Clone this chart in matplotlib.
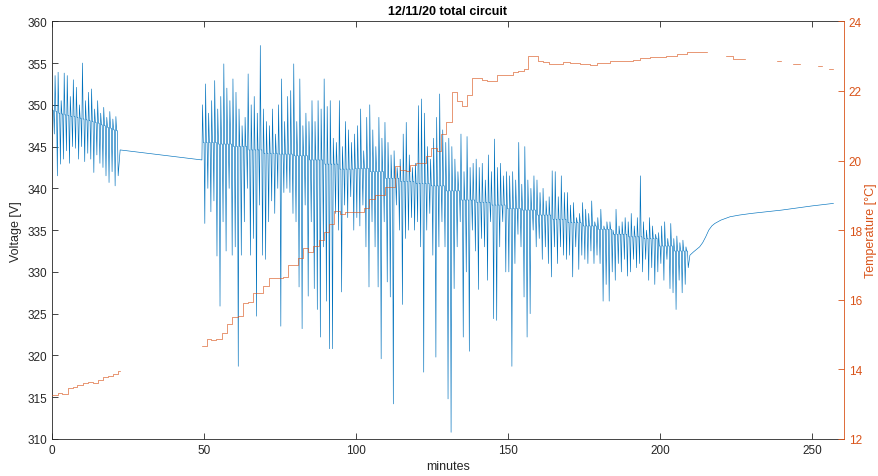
import numpy as np
import matplotlib
matplotlib.use('Agg')
import matplotlib.pyplot as plt

plt.rcParams['font.family'] = ['Liberation Sans', 'DejaVu Sans']

# tensão: cada bin de 1 min tem pico alto, linha de base e pico baixo
seg1_start = 0.0
seg1_base = [349.3, 349.2, 349.0, 348.9, 348.8, 348.7, 348.6, 348.6, 348.5, 348.4, 348.3,
             348.2, 348.1, 348.0, 347.9, 347.8, 347.6, 347.5, 347.3, 347.2, 347.0, 346.9]
seg1_hi = [349.5, 353.5, 353.9, 350.5, 353.8, 353.5, 351.0, 353.0, 352.1, 350.0, 355.0,
           350.5, 351.5, 351.9, 349.5, 350.5, 349.0, 349.7, 348.5, 349.2, 348.3, 348.6]
seg1_lo = [346.5, 341.5, 342.9, 343.5, 344.5, 343.0, 345.0, 344.8, 343.5, 345.0, 343.2,
           344.2, 343.5, 341.9, 344.0, 343.0, 342.5, 341.5, 340.7, 342.0, 340.3, 341.5]

bridge_t = [22.4, 49.3]
bridge_v = [344.6, 343.4]

seg2_start = 49.5
# linha de base a cada 5 min
seg2_base5 = [345.5, 345.3, 345.0, 344.6, 344.2, 344.1, 343.9, 343.4, 342.9, 342.3, 342.4,
              342.0, 341.2, 340.8, 340.6, 340.3, 339.7, 338.6, 338.3, 338.0, 337.6, 337.4,
              336.8, 336.3, 335.9, 335.5, 335.1, 334.5, 334.2, 334.0, 333.1, 332.5]
seg2_hi = [
    350.0, 352.5, 349.0, 350.5, 352.9, 349.5, 351.0, 354.9, 352.0, 350.5,
    353.1, 351.5, 349.5, 347.5, 348.5, 353.7, 350.0, 351.0, 349.0, 357.1,
    349.5, 348.0, 347.5, 349.5, 346.5, 350.0, 353.1, 348.0, 351.0, 351.7,
    354.9, 348.0, 353.1, 347.5, 349.0, 348.0, 350.5, 348.0, 350.5, 349.5,
    353.1, 349.8, 350.5, 346.0, 345.5, 350.5, 345.0, 348.0, 347.0, 345.5,
    346.5, 347.5, 349.5, 344.5, 348.5, 350.0, 347.0, 345.0, 348.5, 346.0,
    347.9, 345.5, 344.0, 344.5, 342.5, 343.5, 346.5, 347.9, 344.0, 342.5,
    343.0, 349.9, 350.7, 349.0, 345.0, 343.5, 346.0, 348.5, 351.3, 347.0,
    345.5, 346.0, 345.0, 343.5, 342.0, 346.5, 342.0, 346.2, 342.5, 343.0,
    343.5, 342.5, 343.0, 341.0, 344.0, 342.0, 345.9, 342.5, 343.0, 341.5,
    342.0, 341.5, 342.0, 341.0, 345.5, 340.5, 345.0, 341.0, 340.0, 341.5,
    341.0, 339.5, 340.0, 338.5, 339.0, 342.1, 342.0, 339.0, 341.5, 339.5,
    339.5, 338.0, 338.3, 336.5, 337.0, 338.3, 337.5, 337.0, 338.5, 336.0,
    336.5, 337.5, 335.5, 336.0, 336.0, 335.0, 337.5, 335.5, 336.0, 336.5,
    336.0, 337.0, 335.5, 336.5, 341.5, 336.0, 335.0, 336.5, 335.5, 334.5,
    334.7, 335.5, 336.0, 334.0, 335.8, 334.0, 334.3, 333.5, 333.8, 333.0]
seg2_lo = [
    335.8, 340.0, 337.2, 338.5, 331.9, 325.9, 336.0, 332.5, 340.0, 332.0,
    333.0, 318.7, 332.0, 336.0, 340.0, 332.0, 334.0, 324.7, 338.0, 332.0,
    331.5, 336.0, 338.5, 337.0, 340.0, 323.5, 339.5, 340.0, 339.5, 337.0,
    336.0, 328.2, 323.2, 338.0, 327.1, 336.0, 328.0, 325.5, 322.2, 333.0,
    326.5, 320.8, 320.8, 337.0, 335.0, 327.6, 338.0, 336.5, 339.0, 335.0,
    336.5, 335.5, 338.0, 333.0, 328.2, 336.0, 333.0, 328.2, 319.6, 336.0,
    328.8, 327.0, 314.2, 338.0, 335.0, 326.1, 334.0, 335.0, 336.5, 335.0,
    336.0, 333.0, 318.0, 335.0, 337.0, 332.0, 319.8, 333.0, 336.0, 333.0,
    314.8, 310.8, 328.0, 333.0, 336.0, 322.2, 330.0, 320.5, 335.0, 332.5,
    327.9, 334.0, 333.0, 329.0, 336.0, 324.4, 324.2, 333.0, 336.0, 330.0,
    330.0, 318.7, 331.0, 334.5, 333.0, 327.0, 322.2, 325.0, 335.0, 333.0,
    334.0, 331.5, 333.0, 331.0, 329.4, 333.0, 331.0, 333.0, 332.0, 331.5,
    332.0, 329.4, 333.0, 330.3, 332.0, 331.5, 331.0, 332.5, 331.0, 332.0,
    331.0, 326.5, 328.5, 326.5, 330.0, 329.0, 331.0, 330.0, 331.5, 329.5,
    330.0, 331.5, 330.5, 331.0, 330.0, 331.5, 329.0, 330.5, 328.5, 330.0,
    331.0, 329.0, 331.5, 328.0, 327.5, 325.5, 329.0, 327.5, 328.5, 330.5]

tail_t = [209.8, 211, 212, 213, 214, 215, 216, 217, 218, 220, 223, 226, 230, 240, 250, 257]
tail_v = [332.0, 332.4, 332.7, 333.0, 333.5, 334.2, 335.0, 335.5, 335.8, 336.2, 336.6,
          336.8, 337.0, 337.4, 337.9, 338.2]

# temperatura (degraus), NaN = sem dados
temp_t = [0, 2.0, 3.2, 5.4, 6.8, 8.3, 10.1, 11.9, 13.6, 15.2, 16.9, 18.5, 20.2, 21.8, 22.4, 22.5,
          49.2, 50.9, 52.2, 53.9, 55.8, 57.5, 59.3, 61.0, 62.7, 64.3, 66.0, 67.9, 69.5, 71.5,
          75.9, 77.7, 81.0, 82.7, 84.3, 85.9, 87.9, 89.3, 91.2, 92.8, 94.7, 96.4, 102.6, 104.4,
          106.2, 109.5, 112.8, 114.5, 116.3, 117.8, 119.6, 122.9, 124.7, 126.5, 128.0, 129.5,
          131.5, 133.1, 134.8, 136.4, 138.1, 141.3, 143.2, 146.5, 148.5, 151.7, 153.4, 155.2,
          156.7, 159.8, 161.5, 163.5, 168.1, 170.3, 173.6, 177.1, 179.1, 183.4, 187.3, 191.1,
          193.4, 196.7, 202.0, 205.5, 208.8, 215.4, 215.5,
          221.7, 223.9, 227.9, 228.0,
          238.6, 239.6, 239.7,
          243.6, 245.8, 245.9,
          252.0, 253.2, 253.3,
          255.7, 257.0]
temp_v = [13.26, 13.33, 13.28, 13.46, 13.50, 13.55, 13.60, 13.63, 13.60, 13.70, 13.77, 13.82,
          13.88, 13.96, 13.96, np.nan,
          14.67, 14.87, 14.84, 14.87, 15.04, 15.30, 15.50, 15.53, 15.90, 15.94, 16.20, 16.19,
          16.39, 16.62, 16.65, 17.00, 17.20, 17.50, 17.38, 17.55, 17.72, 17.94, 18.18, 18.56,
          18.47, 18.53, 18.63, 18.90, 19.01, 19.24, 19.84, 19.74, 19.69, 19.87, 19.93, 20.12,
          20.35, 20.28, 20.76, 21.12, 21.96, 21.72, 21.58, 21.87, 22.37, 22.30, 22.28, 22.46,
          22.45, 22.54, 22.58, 22.62, 23.00, 22.87, 22.82, 22.77, 22.82, 22.80, 22.77, 22.75,
          22.80, 22.85, 22.85, 22.90, 22.94, 22.97, 23.01, 23.06, 23.13, 23.13, np.nan,
          23.01, 22.92, 22.92, np.nan,
          22.85, 22.85, np.nan,
          22.78, 22.78, np.nan,
          22.71, 22.71, np.nan,
          22.63, 22.63]


def montar(start, base, hi, lo):
    t, v = [], []
    for k in range(len(hi)):
        t0 = start + k
        t += [t0, t0 + 0.25, t0 + 0.5, t0 + 0.75]
        v += [hi[k], base[k], base[k], lo[k]]
    return t, v


t1, v1 = montar(seg1_start, seg1_base, seg1_hi, seg1_lo)
t2, v2 = montar(seg2_start, np.repeat(seg2_base5, 5), seg2_hi, seg2_lo)
t_volt = t1 + bridge_t + t2 + tail_t
v_volt = v1 + bridge_v + v2 + tail_v

azul = '#0072BD'
laranja = '#D95319'
cinza = '#262626'

fig = plt.figure(figsize=(8.79, 4.77), dpi=100)
ax = fig.add_axes([0.0592, 0.0776, 0.9007, 0.8757])
ax2 = ax.twinx()

ax.plot(t_volt, v_volt, color=azul, linewidth=0.45)
ax2.plot(temp_t, temp_v, color=laranja, linewidth=0.5, alpha=0.85, drawstyle='steps-post')

ax.set_xlim(0, 260.4)
ax.set_ylim(310, 360)
ax2.set_ylim(12, 24)
ax.set_xticks([0, 50, 100, 150, 200, 250])
ax.set_yticks(np.arange(310, 361, 5))
ax2.set_yticks(np.arange(12, 25, 2))

ax.tick_params(axis='both', direction='in', length=4, width=0.6, labelsize=8.5,
               colors=cinza, top=True)
ax2.tick_params(axis='y', direction='in', length=4, width=0.6, labelsize=8.5,
                colors=laranja)
for s in ['left', 'bottom', 'top']:
    ax.spines[s].set_color(cinza)
    ax.spines[s].set_linewidth(0.6)
ax2.spines['right'].set_color(laranja)
ax2.spines['right'].set_linewidth(0.6)
ax2.spines['left'].set_visible(False)
ax2.spines['top'].set_visible(False)
ax2.spines['bottom'].set_visible(False)
ax.spines['right'].set_visible(False)

ax.set_xlabel('minutes', fontsize=9, color=cinza, labelpad=3)
ax.set_ylabel('Voltage [V]', fontsize=9, color=cinza, labelpad=4)
ax2.set_ylabel('Temperature [°C]', fontsize=9, color=laranja, labelpad=2)
ax.set_title('12/11/20 total circuit', fontsize=9, fontweight='bold', color='black', pad=5)

fig.savefig('out.png', dpi=100)
